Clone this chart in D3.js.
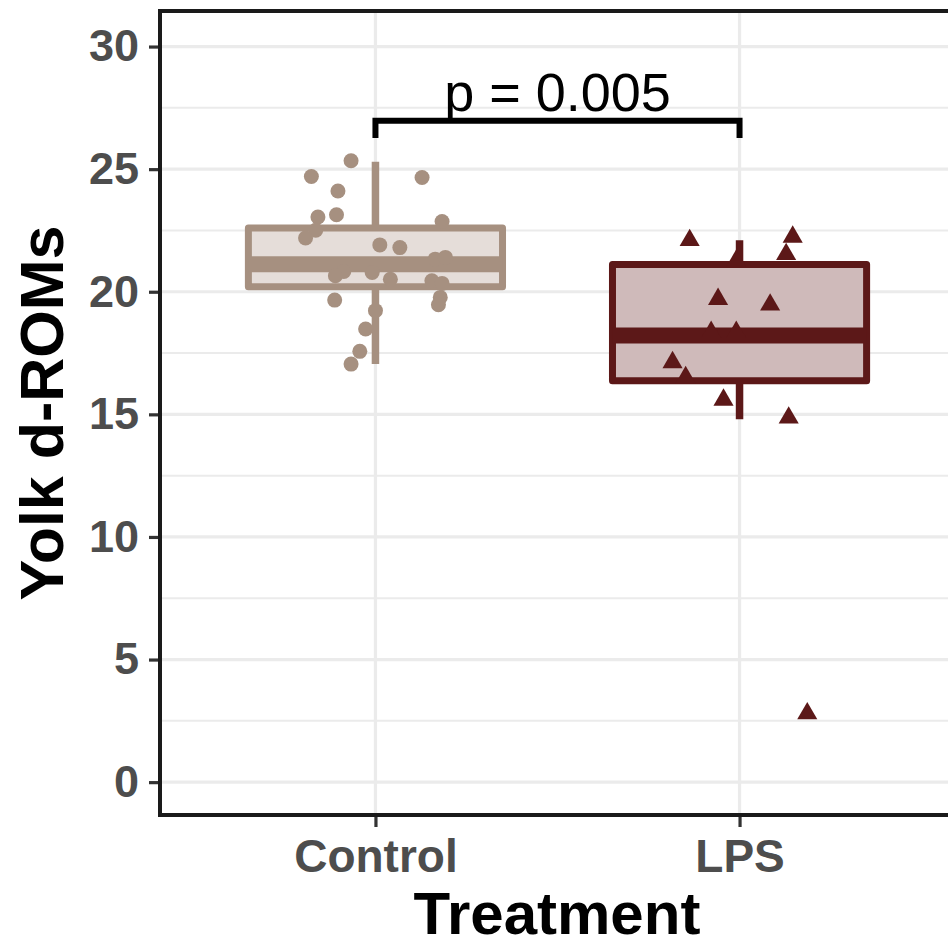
<!DOCTYPE html>
<html>
<head>
<meta charset="utf-8">
<script src="https://cdn.jsdelivr.net/npm/d3@7/dist/d3.min.js"></script>
<style>
  html, body { margin: 0; padding: 0; background: #fff; }
  svg { display: block; font-family: "Liberation Sans", Arial, sans-serif; }
</style>
</head>
<body>
<div id="chart"></div>
<script>
// categories and box statistics
var categories = ["Control", "LPS"];
var boxLow  = [17.05, 14.8];
var boxQ1   = [20.2, 16.37];
var boxMed  = [21.12, 18.22];
var boxQ3   = [22.6, 21.11];
var boxHigh = [25.3, 22.1];

// jittered points: offset (in category units) and value
var controlOffset = [-0.067, -0.176, 0.128, -0.103, -0.107, -0.158, -0.164, -0.192, 0.183, 0.012,
                     0.067, 0.164, 0.192, -0.087, -0.110, -0.009, 0.041, 0.155, 0.183, -0.112,
                     0.178, 0.173, 0.0, -0.027, -0.043, -0.067];
var controlValue  = [25.34, 24.70, 24.66, 24.11, 23.14, 23.05, 22.51, 22.19, 22.86, 21.91,
                     21.80, 21.33, 21.40, 20.83, 20.65, 20.79, 20.51, 20.45, 20.34, 19.66,
                     19.77, 19.47, 19.23, 18.48, 17.57, 17.05];
var lpsOffset = [-0.137, 0.146, 0.128, -0.009, -0.059, 0.084, -0.078, -0.009, -0.184, -0.148, -0.044, 0.135, 0.186];
var lpsValue  = [22.10, 22.24, 21.53, 21.26, 19.70, 19.47, 18.35, 18.35, 17.12, 16.51, 15.59, 14.86, 2.80];

var yTicks = [0, 5, 10, 15, 20, 25, 30];
var yMinor = [2.5, 7.5, 12.5, 17.5, 22.5, 27.5];
var yDomain = [-1.34, 31.45];

var pLabel = "p = 0.005";
var bracketY = 26.97;
var bracketTip = 0.7;

var strokeCol = ["#a69080", "#5c1818"];
var fillCol   = ["#e5ddd9", "#cfbaba"];

var Chart = function(target){
    this.target = target;
    this.width = 948;
    this.height = 947;
    this.panel = {left: 160, top: 11, right: 958, bottom: 815};
    this.init();
};

var ch = Chart.prototype;

ch.init = function(){
    this.svg = d3.select(this.target).append("svg")
        .attr("width", this.width)
        .attr("height", this.height);
    this.x = d3.scalePoint().domain(categories)
        .range([157, 958]).padding(0.6);
    this.y = d3.scaleLinear().domain(yDomain).range([this.panel.bottom, this.panel.top]);
    this.step = this.x.step();
    this.drawGrid();
    this.drawBoxes();
    this.drawPoints();
    this.drawBracket();
    this.drawAxes();
};

ch.drawGrid = function(){
    var p = this.panel, x = this.x, y = this.y;
    var g = this.svg.append("g").attr("class", "grid");
    g.selectAll("line.minor").data(yMinor).enter().append("line")
        .attr("x1", p.left).attr("x2", p.right)
        .attr("y1", y).attr("y2", y)
        .attr("stroke", "#ebebeb").attr("stroke-width", 2);
    g.selectAll("line.major").data(yTicks).enter().append("line")
        .attr("x1", p.left).attr("x2", p.right)
        .attr("y1", y).attr("y2", y)
        .attr("stroke", "#ebebeb").attr("stroke-width", 3.2);
    g.selectAll("line.vert").data(categories).enter().append("line")
        .attr("x1", x).attr("x2", x)
        .attr("y1", p.top).attr("y2", p.bottom)
        .attr("stroke", "#ebebeb").attr("stroke-width", 3.2);
};

ch.drawBoxes = function(){
    var x = this.x, y = this.y, half = this.step * 0.349;
    var g = this.svg.append("g").attr("class", "boxes");
    categories.forEach(function(c, i){
        var cx = x(c);
        g.append("line")
            .attr("x1", cx).attr("x2", cx)
            .attr("y1", y(boxHigh[i])).attr("y2", y(boxLow[i]))
            .attr("stroke", strokeCol[i]).attr("stroke-width", 7.5);
        g.append("rect")
            .attr("x", cx - half).attr("width", half * 2)
            .attr("y", y(boxQ3[i])).attr("height", y(boxQ1[i]) - y(boxQ3[i]))
            .attr("fill", fillCol[i])
            .attr("stroke", strokeCol[i]).attr("stroke-width", 7)
            .attr("stroke-linejoin", "round");
        g.append("line")
            .attr("x1", cx - half).attr("x2", cx + half)
            .attr("y1", y(boxMed[i])).attr("y2", y(boxMed[i]))
            .attr("stroke", strokeCol[i]).attr("stroke-width", 16);
    });
};

ch.drawPoints = function(){
    var x = this.x, y = this.y, step = this.step;
    var g = this.svg.append("g").attr("class", "points");
    var ctrl = controlValue.map(function(v, i){ return {o: controlOffset[i], v: v}; });
    var lps = lpsValue.map(function(v, i){ return {o: lpsOffset[i], v: v}; });
    g.selectAll("circle").data(ctrl).enter().append("circle")
        .attr("cx", function(d){ return x("Control") + d.o * step; })
        .attr("cy", function(d){ return y(d.v); })
        .attr("r", 7.5)
        .attr("fill", strokeCol[0]);
    var tri = d3.symbol().type(d3.symbolTriangle).size(175);
    g.selectAll("path").data(lps).enter().append("path")
        .attr("d", tri)
        .attr("transform", function(d){
            return "translate(" + (x("LPS") + d.o * step) + "," + y(d.v) + ")";
        })
        .attr("fill", strokeCol[1]);
};

ch.drawBracket = function(){
    var x = this.x, y = this.y;
    var g = this.svg.append("g").attr("class", "bracket");
    var x1 = x(categories[0]), x2 = x(categories[1]);
    var line = d3.line();
    g.append("path")
        .attr("d", line([[x1, y(bracketY - bracketTip)], [x1, y(bracketY)], [x2, y(bracketY)], [x2, y(bracketY - bracketTip)]]))
        .attr("fill", "none").attr("stroke", "#000").attr("stroke-width", 6);
    g.append("text")
        .attr("x", (x1 + x2) / 2).attr("y", y(bracketY) - 10)
        .attr("text-anchor", "middle")
        .attr("font-size", 54)
        .attr("fill", "#000")
        .text(pLabel);
};

ch.drawAxes = function(){
    var p = this.panel, x = this.x, y = this.y;
    var g = this.svg.append("g").attr("class", "axes");

    var yAxis = d3.axisLeft(y).tickValues(yTicks).tickSize(11).tickPadding(10);
    var ya = g.append("g").attr("transform", "translate(" + p.left + ",0)").call(yAxis);
    ya.select(".domain").remove();
    ya.selectAll(".tick line").attr("stroke", "#333").attr("stroke-width", 3.2);
    ya.selectAll(".tick text")
        .attr("font-size", 45).attr("font-weight", "bold")
        .attr("fill", "#4d4d4d").attr("font-family", "Liberation Sans, Arial, sans-serif");

    var xAxis = d3.axisBottom(x).tickSize(12).tickPadding(12);
    var xa = g.append("g").attr("transform", "translate(0," + p.bottom + ")").call(xAxis);
    xa.select(".domain").remove();
    xa.selectAll(".tick line").attr("stroke", "#333").attr("stroke-width", 3.2);
    xa.selectAll(".tick text")
        .attr("font-size", 46).attr("font-weight", "bold")
        .attr("fill", "#4d4d4d").attr("font-family", "Liberation Sans, Arial, sans-serif");

    // panel border
    g.append("rect")
        .attr("x", p.left).attr("y", p.top)
        .attr("width", p.right - p.left).attr("height", p.bottom - p.top)
        .attr("fill", "none").attr("stroke", "#1a1a1a").attr("stroke-width", 4);

    g.append("text")
        .attr("x", (p.left + 958) / 2 - 2).attr("y", 934)
        .attr("text-anchor", "middle")
        .attr("font-size", 60).attr("font-weight", "bold")
        .text("Treatment");
    g.append("text")
        .attr("transform", "translate(63," + ((p.top + p.bottom) / 2) + ") rotate(-90)")
        .attr("text-anchor", "middle")
        .attr("font-size", 61).attr("font-weight", "bold")
        .text("Yolk d-ROMs");
};

new Chart("#chart");
</script>
</body>
</html>
